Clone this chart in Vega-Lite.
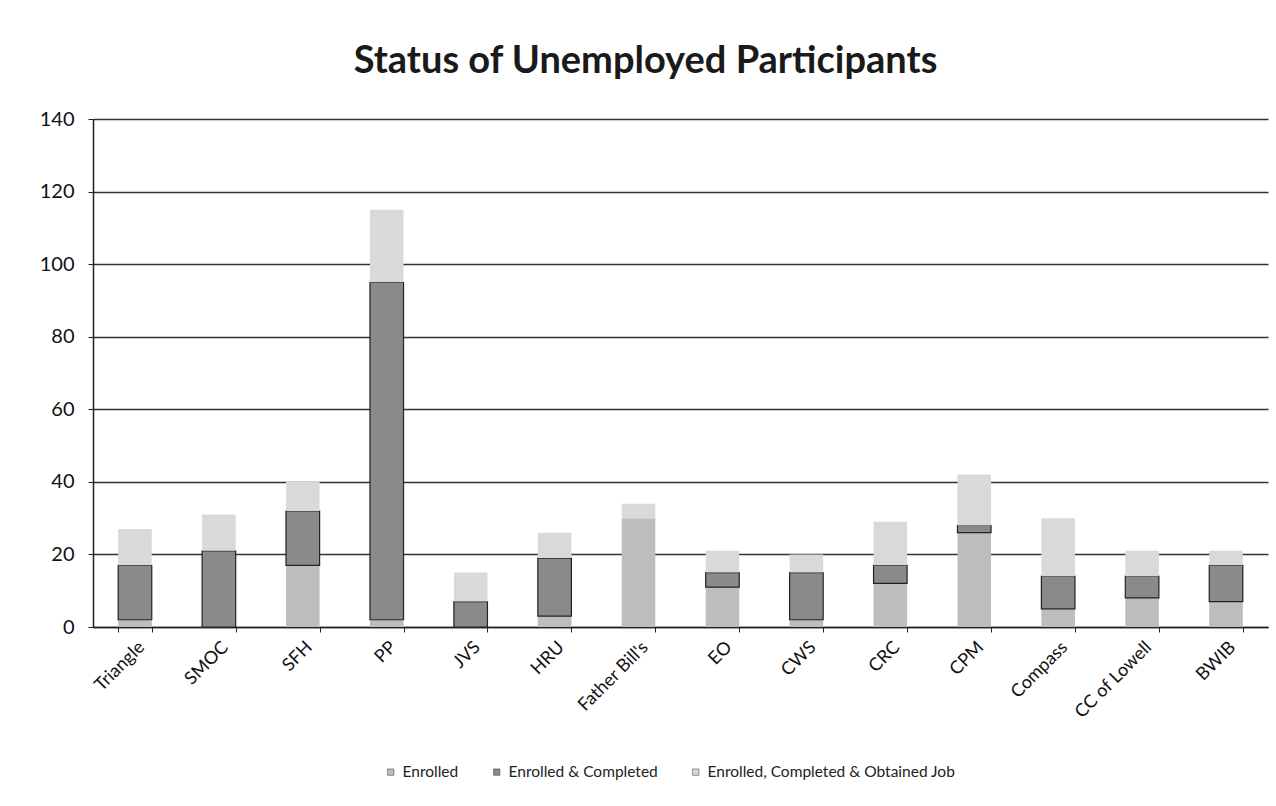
{
  "$schema": "https://vega.github.io/schema/vega-lite/v6.json",
  "width": 1175,
  "height": 508,
  "autosize": {"type": "none"},
  "padding": {"left": 93, "top": 119, "right": 8, "bottom": 179},
  "background": "white",
  "title": {
    "text": "Status of Unemployed Participants",
    "font": "Lato",
    "fontSize": 38,
    "fontWeight": "bold",
    "color": "#1a1a1a",
    "anchor": "middle",
    "dx": -35,
    "offset": 28
  },
  "config": {
    "view": {"stroke": null},
    "font": "Lato"
  },
  "data": {
    "values": [
      {"org": "Triangle", "series": "Enrolled", "ord": 1, "value": 2},
      {"org": "Triangle", "series": "Enrolled & Completed", "ord": 2, "value": 15},
      {"org": "Triangle", "series": "Enrolled, Completed & Obtained Job", "ord": 3, "value": 10},
      {"org": "SMOC", "series": "Enrolled", "ord": 1, "value": 0},
      {"org": "SMOC", "series": "Enrolled & Completed", "ord": 2, "value": 21},
      {"org": "SMOC", "series": "Enrolled, Completed & Obtained Job", "ord": 3, "value": 10},
      {"org": "SFH", "series": "Enrolled", "ord": 1, "value": 17},
      {"org": "SFH", "series": "Enrolled & Completed", "ord": 2, "value": 15},
      {"org": "SFH", "series": "Enrolled, Completed & Obtained Job", "ord": 3, "value": 8},
      {"org": "PP", "series": "Enrolled", "ord": 1, "value": 2},
      {"org": "PP", "series": "Enrolled & Completed", "ord": 2, "value": 93},
      {"org": "PP", "series": "Enrolled, Completed & Obtained Job", "ord": 3, "value": 20},
      {"org": "JVS", "series": "Enrolled", "ord": 1, "value": 0},
      {"org": "JVS", "series": "Enrolled & Completed", "ord": 2, "value": 7},
      {"org": "JVS", "series": "Enrolled, Completed & Obtained Job", "ord": 3, "value": 8},
      {"org": "HRU", "series": "Enrolled", "ord": 1, "value": 3},
      {"org": "HRU", "series": "Enrolled & Completed", "ord": 2, "value": 16},
      {"org": "HRU", "series": "Enrolled, Completed & Obtained Job", "ord": 3, "value": 7},
      {"org": "Father Bill's", "series": "Enrolled", "ord": 1, "value": 30},
      {"org": "Father Bill's", "series": "Enrolled & Completed", "ord": 2, "value": 0},
      {"org": "Father Bill's", "series": "Enrolled, Completed & Obtained Job", "ord": 3, "value": 4},
      {"org": "EO", "series": "Enrolled", "ord": 1, "value": 11},
      {"org": "EO", "series": "Enrolled & Completed", "ord": 2, "value": 4},
      {"org": "EO", "series": "Enrolled, Completed & Obtained Job", "ord": 3, "value": 6},
      {"org": "CWS", "series": "Enrolled", "ord": 1, "value": 2},
      {"org": "CWS", "series": "Enrolled & Completed", "ord": 2, "value": 13},
      {"org": "CWS", "series": "Enrolled, Completed & Obtained Job", "ord": 3, "value": 5},
      {"org": "CRC", "series": "Enrolled", "ord": 1, "value": 12},
      {"org": "CRC", "series": "Enrolled & Completed", "ord": 2, "value": 5},
      {"org": "CRC", "series": "Enrolled, Completed & Obtained Job", "ord": 3, "value": 12},
      {"org": "CPM", "series": "Enrolled", "ord": 1, "value": 26},
      {"org": "CPM", "series": "Enrolled & Completed", "ord": 2, "value": 2},
      {"org": "CPM", "series": "Enrolled, Completed & Obtained Job", "ord": 3, "value": 14},
      {"org": "Compass", "series": "Enrolled", "ord": 1, "value": 5},
      {"org": "Compass", "series": "Enrolled & Completed", "ord": 2, "value": 9},
      {"org": "Compass", "series": "Enrolled, Completed & Obtained Job", "ord": 3, "value": 16},
      {"org": "CC of Lowell", "series": "Enrolled", "ord": 1, "value": 8},
      {"org": "CC of Lowell", "series": "Enrolled & Completed", "ord": 2, "value": 6},
      {"org": "CC of Lowell", "series": "Enrolled, Completed & Obtained Job", "ord": 3, "value": 7},
      {"org": "BWIB", "series": "Enrolled", "ord": 1, "value": 7},
      {"org": "BWIB", "series": "Enrolled & Completed", "ord": 2, "value": 10},
      {"org": "BWIB", "series": "Enrolled, Completed & Obtained Job", "ord": 3, "value": 4}
    ]
  },
  "mark": {"type": "bar"},
  "encoding": {
    "x": {
      "field": "org",
      "type": "nominal",
      "sort": null,
      "scale": {"paddingInner": 0.6, "paddingOuter": 0.3},
      "axis": {
        "title": null,
        "labelAngle": -45,
        "labelFontSize": 18,
        "labelColor": "#111",
        "labelPadding": 6,
        "tickBand": "extent",
        "ticks": true,
        "tickSize": 5,
        "tickColor": "#222",
        "domainColor": "#222",
        "domainWidth": 1.5
      }
    },
    "y": {
      "field": "value",
      "type": "quantitative",
      "stack": "zero",
      "scale": {"domain": [0, 140], "nice": false},
      "axis": {
        "title": null,
        "values": [0, 20, 40, 60, 80, 100, 120, 140],
        "labelFontSize": 20,
        "labelColor": "#111",
        "labelPadding": 14,
        "tickSize": 5,
        "tickColor": "#222",
        "domainColor": "#222",
        "domainWidth": 1.5,
        "grid": true,
        "gridColor": "#333",
        "gridWidth": 1.4
      }
    },
    "order": {"field": "ord", "type": "quantitative", "sort": "ascending"},
    "color": {
      "field": "series",
      "type": "nominal",
      "sort": ["Enrolled", "Enrolled & Completed", "Enrolled, Completed & Obtained Job"],
      "scale": {
        "domain": ["Enrolled", "Enrolled & Completed", "Enrolled, Completed & Obtained Job"],
        "range": ["#bdbdbd", "#8a8a8a", "#d9d9d9"]
      },
      "legend": {
        "title": null,
        "orient": "none",
        "direction": "horizontal",
        "legendX": 290,
        "legendY": 645,
        "symbolType": "square",
        "symbolSize": 40,
        "labelFontSize": 15.5,
        "labelLimit": 500,
        "labelOffset": 4,
        "labelColor": "#222",
        "columnPadding": 30,
        "symbolStrokeColor": "#333",
        "symbolStrokeWidth": 0.5
      }
    },
    "stroke": {
      "condition": {"test": "datum.series === 'Enrolled & Completed' && datum.value > 0", "value": "#222"},
      "value": null
    },
    "strokeWidth": {"value": 1.2}
  }
}
